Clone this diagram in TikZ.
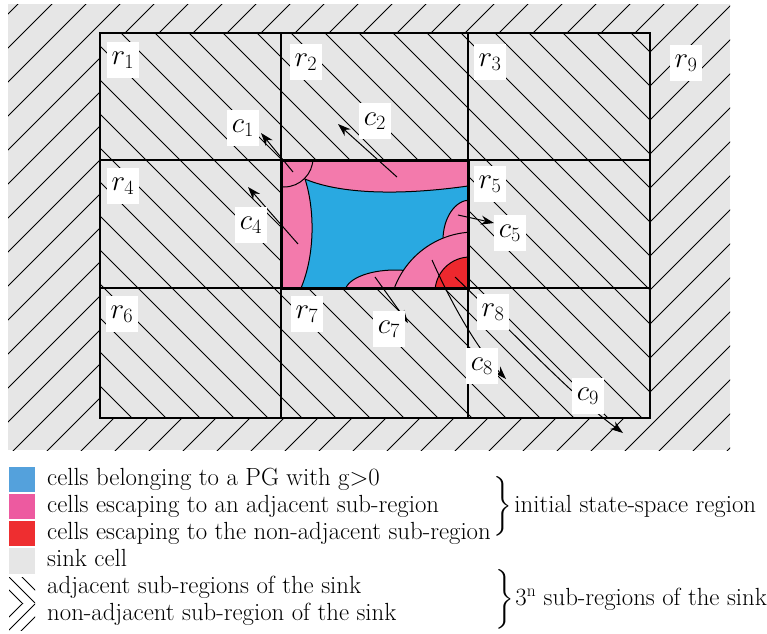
\RequirePackage{fix-cm}
\documentclass[tikz,border=0pt]{standalone}
\usepackage{exscale}
\usepackage{fontspec}
\usetikzlibrary{arrows.meta}
\definecolor{sinkgray}{RGB}{230,230,230}
\definecolor{pgblue}{RGB}{41,169,225}
\definecolor{escpink}{RGB}{243,122,172}
\definecolor{escred}{RGB}{237,40,46}
\definecolor{legblue}{RGB}{84,161,220}
\definecolor{legpink}{RGB}{237,90,160}
\definecolor{legred}{RGB}{238,46,48}
\newcommand{\bigtxt}{\fontsize{24.8}{29}\selectfont}
\newcommand{\lbltxt}{\fontsize{29}{34}\selectfont}
\tikzset{
  hatch/.style={line width=0.9pt},
  gridline/.style={line width=1.1pt},
  lobe/.style={fill=escpink, draw=black, line width=1pt},
  lbl/.style={fill=white, inner sep=0pt, minimum width=32pt, minimum height=36pt, font=\lbltxt},
  legtxt/.style={anchor=base west, inner sep=0pt, font=\bigtxt},
  arr/.style={line width=1pt, -{Stealth[length=13pt,width=9pt]}},
}
\begin{document}
\begin{tikzpicture}[x=1pt,y=-1pt]
\useasboundingbox (0,0) rectangle (767,633);
% outer sink region with "/" hatching
\fill[sinkgray] (8,4) rectangle (730,450);
\begin{scope}
  \clip (8,4) rectangle (730,450);
  \foreach \k [evaluate=\k as \d using 702+34*\k] in {-22,...,16}
    \draw[hatch] (-50,{\d+50}) -- (800,{\d-800});
\end{scope}
% adjacent sub-regions with "\" hatching
\fill[sinkgray] (100,33) rectangle (650,418);
\begin{scope}
  \clip (100,33) rectangle (650,418);
  \foreach \k [evaluate=\k as \c using -598+34*\k] in {-4,...,33}
    \draw[hatch] (-50,{\c-50}) -- (800,{\c+800});
\end{scope}
% grid
\draw[gridline] (100,33) rectangle (650,418);
\draw[gridline] (281,33) -- (281,418);
\draw[gridline] (468,33) -- (468,418);
\draw[gridline] (100,160) -- (650,160);
\draw[gridline] (100,288) -- (650,288);
% initial region
\begin{scope}
  \clip (281,160) rectangle (468,288);
  \fill[escpink] (281,160) rectangle (468,288);
  \filldraw[fill=pgblue, draw=black, line width=1pt]
    (305,179) .. controls (335,192) and (390,197) .. (468,186)
    -- (472,186) -- (472,292) -- (301,292) -- (301,288)
    .. controls (315,255) and (315,210) .. (305,179) -- cycle;
  \filldraw[lobe] (284,158) circle (29pt);
  \filldraw[lobe] (470,240) ellipse [x radius=27pt, y radius=40pt];
  \filldraw[lobe] (395,292) ellipse [x radius=50pt, y radius=22pt];
  \filldraw[lobe] (475,318) circle (86pt);
  \filldraw[fill=escred, draw=black, line width=1pt] (470,292) circle (35pt);
\end{scope}
\draw[line width=3pt] (281,160) rectangle (468,288);
% arrow end points
\coordinate (s1) at (293,172); \coordinate (e1) at (261,133);
\coordinate (s2) at (397,177); \coordinate (e2) at (338,124);
\coordinate (s4) at (298,244); \coordinate (e4) at (248,187);
\coordinate (s5) at (458,215); \coordinate (e5) at (494,223);
\coordinate (s7) at (375,277); \coordinate (e7) at (408,323);
\coordinate (s8) at (432,260); \coordinate (e8) at (506,379);
\coordinate (s9) at (455,277); \coordinate (e9) at (623,433);
\draw[arr] (s1) -- (e1);
\draw[arr] (s2) -- (e2);
\draw[arr] (s4) -- (e4);
\draw[arr] (s5) -- (e5);
\draw[arr] (s7) -- (e7);
\draw[arr] (s8) .. controls (452,305) and (478,350) .. (e8);
\draw[arr] (s9) .. controls (511,330) and (570,394) .. (e9);
% region labels
\node[lbl] (r1) at (123,60) {$r_1$};
\node[lbl] (r2) at (306,62) {$r_2$};
\node[lbl] (r3) at (490,62) {$r_3$};
\node[lbl] (r9) at (686,63) {$r_9$};
\node[lbl] (r4) at (123,186) {$r_4$};
\node[lbl] (r5) at (490,184) {$r_5$};
\node[lbl] (r6) at (122,314) {$r_6$};
\node[lbl] (r7) at (307,314) {$r_7$};
\node[lbl] (r8) at (493,312) {$r_8$};
% cell labels
\node[lbl] (c1) at (243,128) {$c_1$};
\node[lbl] (c2) at (375,121) {$c_2$};
\node[lbl] (c4) at (251,225) {$c_4$};
\node[lbl] (c5) at (510,233) {$c_5$};
\node[lbl] (c7) at (389,329) {$c_7$};
\node[lbl] (c8) at (482,366) {$c_8$};
\node[lbl] (c9) at (588,396) {$c_9$};
% legend
\fill[legblue] (9,467) rectangle (35,492);
\fill[legpink] (9,494) rectangle (35,519);
\fill[legred] (9,521) rectangle (35,546);
\fill[sinkgray] (9,548) rectangle (35,574);
\begin{scope}
  \clip (9,577) rectangle (35,603);
  \foreach \c in {555,568,581} \draw[hatch] (0,{\c}) -- (50,{\c+50});
\end{scope}
\begin{scope}
  \clip (9,604) rectangle (35,630);
  \foreach \d in {626,639,652} \draw[hatch] (0,{\d}) -- (50,{\d-50});
\end{scope}
\node[legtxt] (t1) at (47,485) {cells belonging to a PG with g>0};
\node[legtxt] (t2) at (47,512) {cells escaping to an adjacent sub-region};
\node[legtxt] (t3) at (47,539.5) {cells escaping to the non-adjacent sub-region};
\node[legtxt] (t4) at (47,566.5) {sink cell};
\node[legtxt] (t5) at (47,593) {adjacent sub-regions of the sink};
\node[legtxt] (t6) at (47,620.5) {non-adjacent sub-region of the sink};
\node[anchor=west, inner sep=0pt, font=\bigtxt] (b1) at (492,506)
  {$\left.\vcenter{\hrule height 64pt width 0pt}\right\}$};
\node[anchor=west, inner sep=0pt, font=\bigtxt] (g1) at ([xshift=2pt]b1.east) {initial state-space region};
\node[anchor=west, inner sep=0pt, font=\bigtxt] (b2) at (494,599)
  {$\left.\vcenter{\hrule height 52pt width 0pt}\right\}$};
\node[anchor=west, inner sep=0pt, font=\bigtxt] (g2) at ([xshift=1pt]b2.east) {$3^{\mathrm{n}}$ sub-regions of the sink};
\end{tikzpicture}
\end{document}
